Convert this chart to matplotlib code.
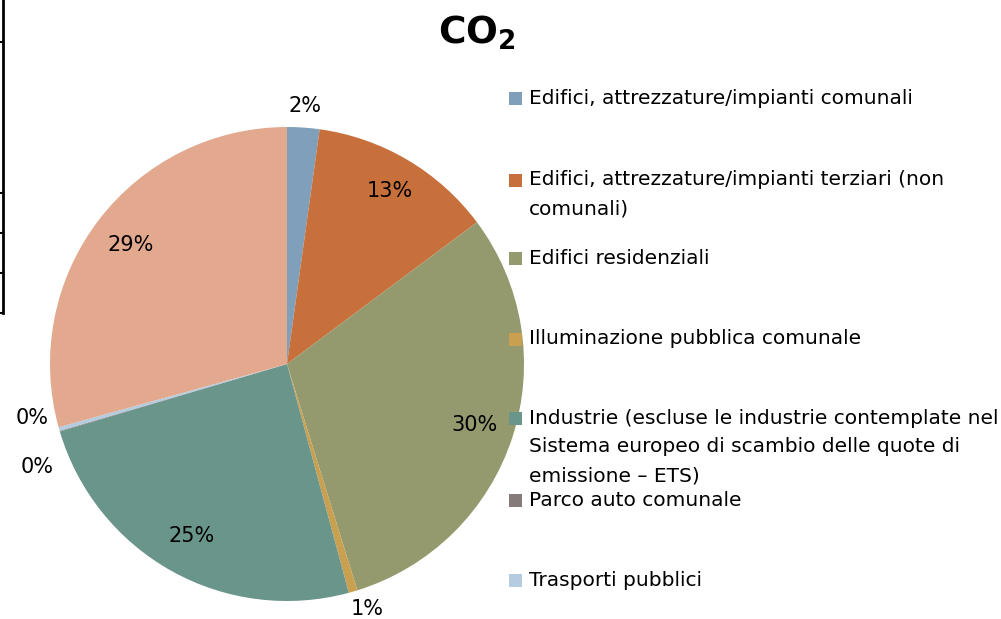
import math
import matplotlib
matplotlib.use("Agg")
import matplotlib.pyplot as plt
from matplotlib.patches import Rectangle
from matplotlib.lines import Line2D

categories = [
    "Edifici, attrezzature/impianti comunali",
    "Edifici, attrezzature/impianti terziari (non\ncomunali)",
    "Edifici residenziali",
    "Illuminazione pubblica comunale",
    "Industrie (escluse le industrie contemplate nel\nSistema europeo di scambio delle quote di\nemissione \u2013 ETS)",
    "Parco auto comunale",
    "Trasporti pubblici",
    "Altro",
]
values = [2.2, 12.6, 30.4, 0.6, 24.6, 0.05, 0.25, 29.3]
colors = ["#7F9FBA", "#C8703C", "#949A6E", "#C9A04F", "#6A958B",
          "#857B7B", "#B3CCE0", "#E3A98F"]

# label placement (radius factor, angle nudge in degrees)
label_r = [1.09, 0.85, 0.83, 1.09, 0.83, 1.14, 1.10, 0.83]
label_shift = [0, 0, 0, -2, 0, -6, 4, 0]

W, H = 1001, 619
fig = plt.figure(figsize=(W / 100, H / 100), dpi=100)

cx, cy, R = 287, 364, 237
ax = fig.add_axes([(cx - R) / W, (H - cy - R) / H, 2 * R / W, 2 * R / H])
ax.pie(values, colors=colors, startangle=90, counterclock=False,
       wedgeprops=dict(linewidth=0))
ax.set_xlim(-1, 1)
ax.set_ylim(-1, 1)
ax.set_aspect("equal")
ax.axis("off")

total = sum(values)
cum = 0
for i, v in enumerate(values):
    mid = (cum + v / 2) / total * 360 + label_shift[i]
    cum += v
    th = math.radians(mid)
    r = label_r[i]
    ax.text(r * math.sin(th), r * math.cos(th), "%d%%" % round(v),
            ha="center", va="center", fontsize=15, color="black",
            clip_on=False)

fig.text(477 / W, 1 - 33 / H, r"CO$_\mathbf{2}$", ha="center", va="center",
         fontsize=27, fontweight="bold")

# legend
leg_y = [98, 180, 258, 339, 418, 500, 580]
for i, y in enumerate(leg_y):
    fig.patches.append(Rectangle((509 / W, 1 - (y + 7) / H), 13 / W, 13 / H,
                                 transform=fig.transFigure,
                                 facecolor=colors[i], edgecolor="none"))
    for k, line in enumerate(categories[i].split("\n")):
        fig.text(529 / W, 1 - (y + k * 29) / H, line, ha="left",
                 va="center", fontsize=14.5, color="black")

# fragment of a neighbouring frame on the left edge
fig.lines.append(Line2D([3 / W, 3 / W], [1, 1 - 313 / H],
                        transform=fig.transFigure, color="black", lw=2))
for y in [42, 193, 233, 273, 313]:
    fig.lines.append(Line2D([0, 3 / W], [1 - y / H, 1 - y / H],
                            transform=fig.transFigure, color="black", lw=1.5))

fig.savefig("out.png", dpi=100)
